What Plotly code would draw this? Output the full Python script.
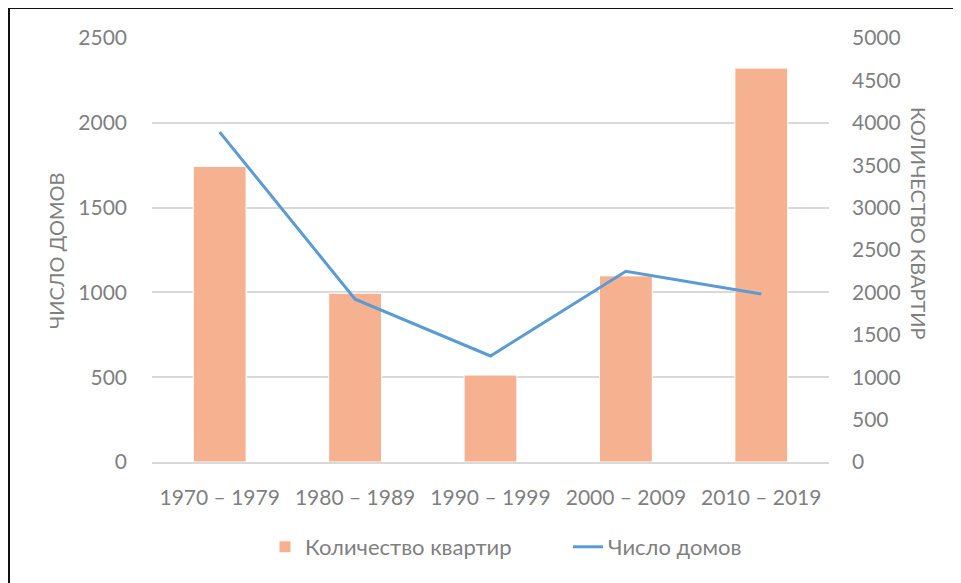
import plotly.graph_objects as go

categories = ["1970 – 1979", "1980 – 1989", "1990 – 1999", "2000 – 2009", "2010 – 2019"]
apartments = [3485, 1990, 1025, 2195, 4645]   # Количество квартир (right axis)
houses = [1945, 960, 625, 1125, 990]          # Число домов (left axis)
left_ticks = [0, 500, 1000, 1500, 2000, 2500]
right_ticks = [0, 500, 1000, 1500, 2000, 2500, 3000, 3500, 4000, 4500, 5000]

# the page body adds an 8px offset; work in screen pixels and convert
OFF = 8
SW, SH = 961, 583
W, H = SW - OFF, SH - OFF
PL, PR, PT, PB = 152, 829, 38, 462          # plot area in screen pixels
L, T = PL - OFF, PT - OFF
R, B = SW - PR, SH - PB
pw, ph = PR - PL, PB - PT

def px(x):
    return (x - PL) / pw

def py(y):
    return (PB - y) / ph

def cx(x):
    return (x - OFF) / W

def cy(y):
    return 1 - (y - OFF) / H

FONT = "Lato, Calibri, Carlito, sans-serif"
GREY = "#7f7f7f"

fig = go.Figure()
fig.add_trace(go.Bar(
    x=categories, y=apartments, name="Количество квартир", yaxis="y",
    marker=dict(color="#F5B190", line=dict(color="white", width=1)),
))
fig.add_trace(go.Scatter(
    x=categories, y=houses, name="Число домов", yaxis="y2",
    mode="lines", line=dict(color="#5B9BD5", width=3),
))

fig.update_layout(
    width=W, height=H,
    margin=dict(l=L, r=R, t=T, b=B, autoexpand=False),
    paper_bgcolor="white", plot_bgcolor="white",
    font=dict(family=FONT, size=21, color=GREY),
    bargap=0.61,
    showlegend=True,
    legend=dict(orientation="h", xref="container", yref="container",
                x=cx(265), xanchor="left", y=cy(547), yanchor="middle",
                font=dict(size=22, color=GREY), traceorder="normal",
                entrywidth=258, entrywidthmode="pixels"),
    xaxis=dict(type="category", range=[-0.5, 4.5], showgrid=False, showline=True,
               linecolor="#d9d9d9", linewidth=1.5, ticks="", ticklabelstandoff=16,
               tickfont=dict(size=21, color=GREY)),
    yaxis=dict(range=[0, 5000], tickvals=right_ticks, side="right",
               showgrid=False, zeroline=False, ticks="", ticklabelstandoff=22,
               tickfont=dict(size=21, color=GREY)),
    yaxis2=dict(range=[0, 2500], tickvals=left_ticks, overlaying="y", side="left",
                showgrid=True, gridcolor="#d9d9d9", gridwidth=1.5, zeroline=False,
                ticks="", ticklabelstandoff=24, tickfont=dict(size=21, color=GREY)),
    annotations=[
        dict(text="ЧИСЛО ДОМОВ", xref="paper", yref="paper", x=px(56), y=py(251),
             textangle=-90, showarrow=False, font=dict(size=20, color=GREY),
             xanchor="center", yanchor="middle"),
        dict(text="КОЛИЧЕСТВО КВАРТИР", xref="paper", yref="paper", x=px(919), y=py(223),
             textangle=90, showarrow=False, font=dict(size=20, color=GREY),
             xanchor="center", yanchor="middle"),
    ],
    shapes=[
        dict(type="line", xref="paper", yref="paper", x0=px(9), x1=px(9), y0=py(8), y1=py(SH + 5),
             line=dict(color="#111111", width=2)),
        dict(type="line", xref="paper", yref="paper", x0=px(9), x1=px(SW + 5), y0=py(8), y1=py(8),
             line=dict(color="#111111", width=2)),
    ],
)

fig.write_html("out.html")
